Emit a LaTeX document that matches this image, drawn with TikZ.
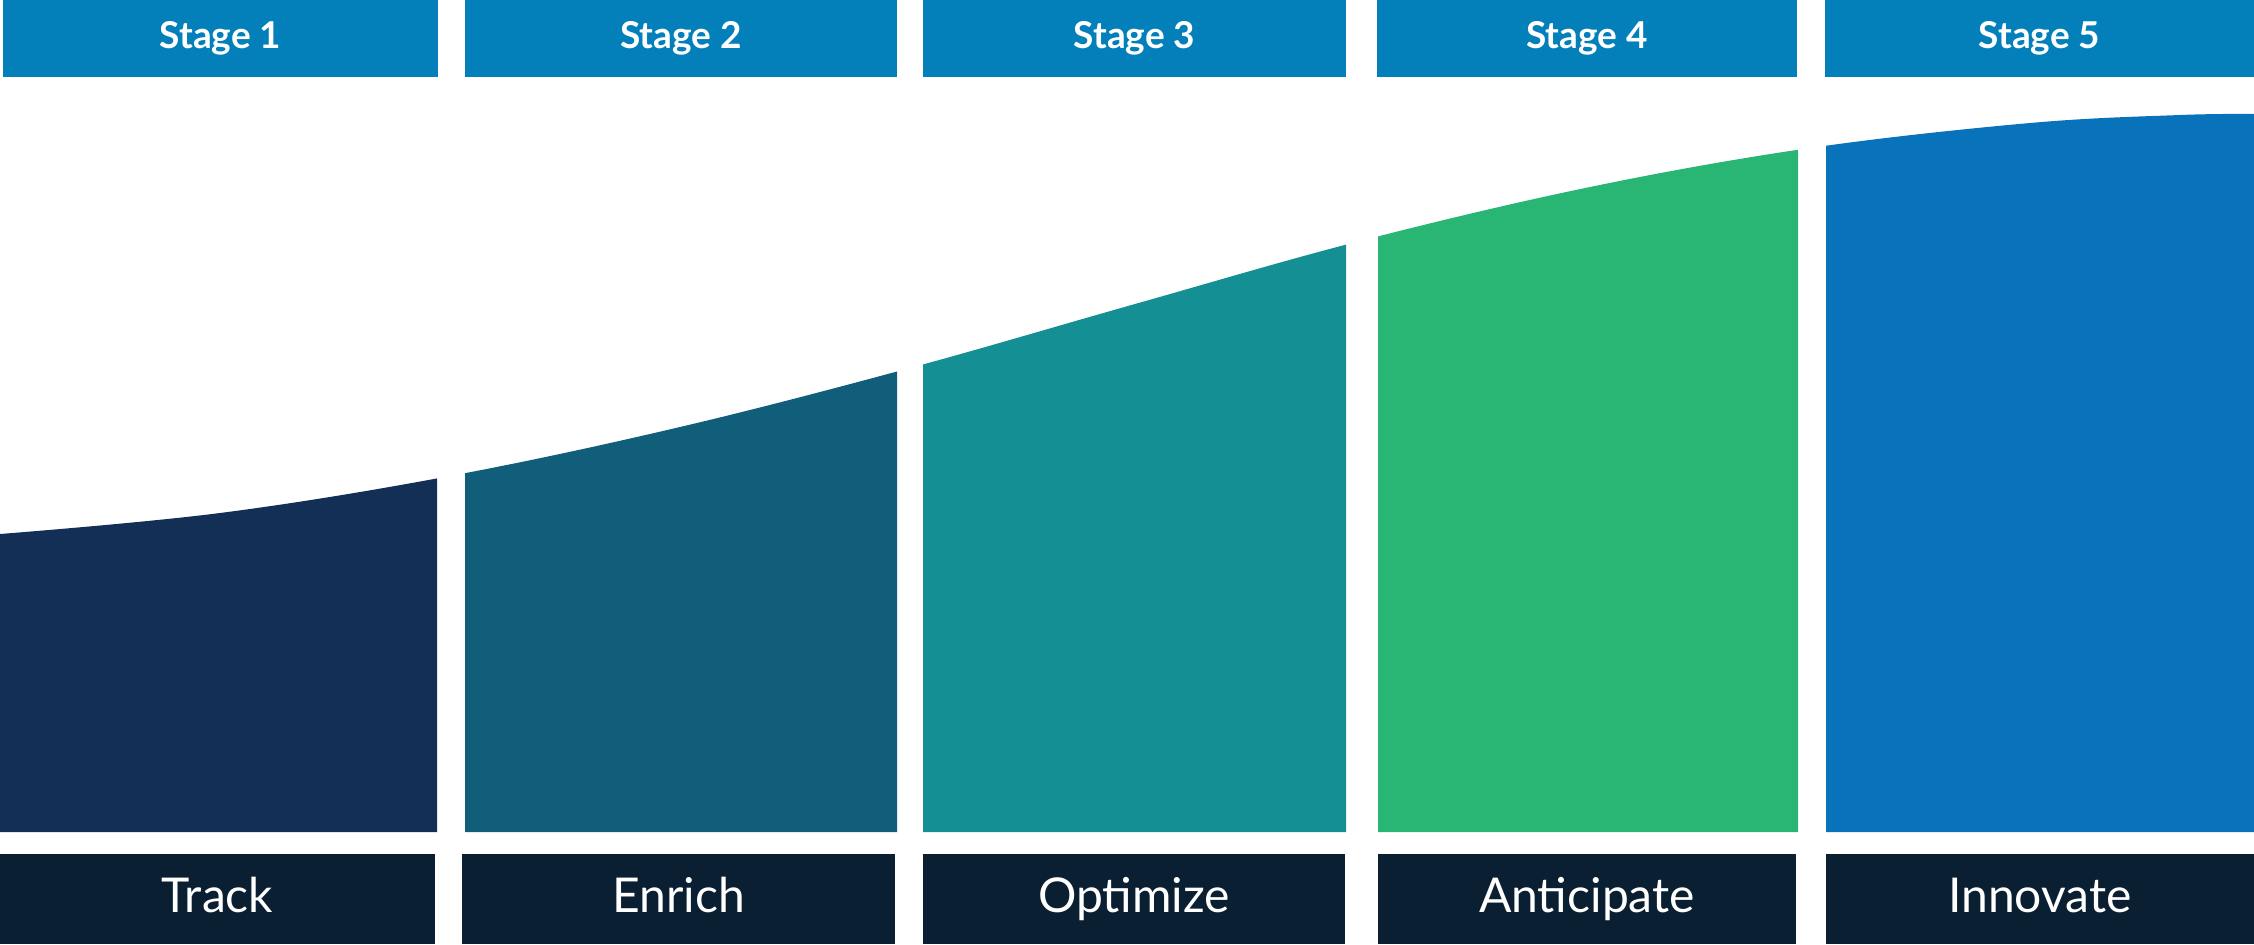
\documentclass[tikz,border=0pt]{standalone}
\usepackage{fontspec}
\setmainfont{Lato}
\definecolor{hdrblue}{HTML}{0380BA}
\definecolor{cone}{HTML}{142F55}
\definecolor{ctwo}{HTML}{115E7B}
\definecolor{cthree}{HTML}{148F94}
\definecolor{cfour}{HTML}{29B573}
\definecolor{cfive}{HTML}{0872BA}
\definecolor{botdark}{HTML}{0A2032}
\begin{document}
\begin{tikzpicture}[x=0.5pt,y=-0.5pt,
  hdr/.style={fill=hdrblue,text=white,inner sep=0pt,minimum height=38.5pt,text height=13.25pt,text depth=3.5pt,font=\fontsize{18.5}{20}\selectfont\bfseries},
  bot/.style={fill=botdark,text=white,inner sep=0pt,minimum height=45pt,text height=17.2pt,text depth=3.5pt,font=\fontsize{24}{26}\selectfont}]
\useasboundingbox (0,0) rectangle (2254,944);
\def\curvepath{plot[smooth,tension=0.6] coordinates {(0,534) (220,513) (450,476) (680,427) (910,368) (1135,304) (1360,241) (1590,187) (1810,148) (2030,123) (2180,115) (2254,114)}}
% columns
\foreach \xa/\xb/\col in {0/437/cone,465/897/ctwo,923/1346/cthree,1378/1798/cfour,1826/2254/cfive}{
  \begin{scope}
    \clip (\xa,832) rectangle (\xb,0);
    \fill[\col] \curvepath -- (2254,832) -- (0,832) -- cycle;
  \end{scope}
}
% headers
\node[hdr,minimum width=217.5pt] (h1) at (220.5,38.5) {Stage 1};
\node[hdr,minimum width=216pt] (h2) at (681,38.5) {Stage 2};
\node[hdr,minimum width=211.5pt] (h3) at (1134.5,38.5) {Stage 3};
\node[hdr,minimum width=210pt] (h4) at (1587,38.5) {Stage 4};
\node[hdr,minimum width=214.5pt] (h5) at (2039.5,38.5) {Stage 5};
% bottom labels
\node[bot,minimum width=217.5pt] (b1) at (217.5,899) {Track};
\node[bot,minimum width=216.5pt] (b2) at (678.5,899) {Enrich};
\node[bot,minimum width=211pt] (b3) at (1134,899) {Optimize};
\node[bot,minimum width=209pt] (b4) at (1587,899) {Anticipate};
\node[bot,minimum width=214pt] (b5) at (2040,899) {Innovate};
\end{tikzpicture}
\end{document}
